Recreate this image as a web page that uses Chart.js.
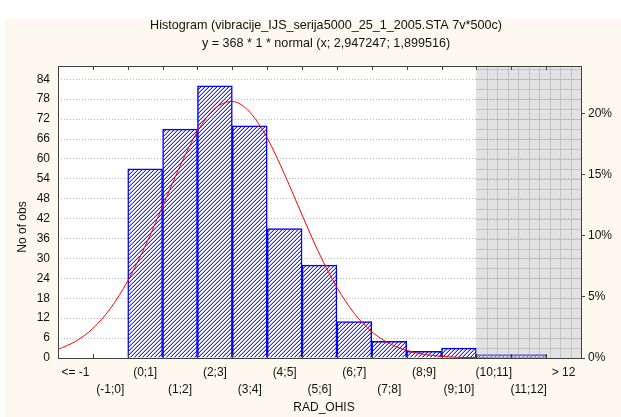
<!DOCTYPE html>
<html>
<head>
<meta charset="utf-8">
<script src="https://cdn.jsdelivr.net/npm/chart.js@4.4.0/dist/chart.umd.min.js"></script>
<style>
  html, body { margin: 0; padding: 0; background: #fff; }
</style>
</head>
<body>
<canvas id="histo" width="621" height="417"></canvas>
<script>
// ---- data ----
const categories = ['<= -1', '(-1;0]', '(0;1]', '(1;2]', '(2;3]', '(3;4]', '(4;5]', '(5;6]',
  '(6;7]', '(7;8]', '(8;9]', '(9;10]', '(10;11]', '(11;12]', '> 12'];
const counts = [0, 0, 57, 69, 82, 70, 39, 28, 11, 5, 2, 3, 1, 1, 0];

// fitted normal curve (x in RAD_OHIS units, y in counts)
const curveX = [-2, -1.5, -1, -0.5, 0, 0.5, 1, 1.5, 2, 2.5, 3, 3.5, 4, 4.5, 5, 5.5, 6, 6.5, 7,
  7.5, 8, 8.5, 9, 9.5, 10, 10.5, 11, 11.5, 12];
const curveY = [2.6, 5.0, 8.9, 14.9, 23.2, 33.7, 45.7, 57.8, 68.3, 75.2, 77.3, 74.1, 66.3, 55.3,
  43.1, 31.3, 21.3, 13.4, 7.9, 4.4, 2.3, 1.1, 0.5, 0.2, 0.1, 0, 0, 0, 0];

const yTicks = [0, 6, 12, 18, 24, 30, 36, 42, 48, 54, 60, 66, 72, 78, 84];
const pctTicks = [0, 5, 10, 15, 20];
const totalObs = 368;
const yMax = 88;
const shadedFrom = 12;   // first category index under the grey area

const titleLines = ['Histogram (vibracije_IJS_serija5000_25_1_2005.STA 7v*500c)',
  'y = 368 * 1 * normal (x; 2,947247; 1,899516)'];
const xTitle = 'RAD_OHIS';
const yTitle = 'No of obs';

const FONT = '"Liberation Sans", Arial, sans-serif';

// ---- hatch fill for the bars (blue "/" lines) ----
function makeHatch(ctx2d) {
  const c = document.createElement('canvas');
  c.width = 4; c.height = 4;
  const g = c.getContext('2d');
  g.fillStyle = '#fff';
  g.fillRect(0, 0, 4, 4);
  for (let y = 0; y < 4; y++) {
    for (let x = 0; x < 4; x++) {
      const k = (x + y) % 4;
      if (k === 3) { g.fillStyle = '#2222ff'; g.fillRect(x, y, 1, 1); }
      if (k === 2) { g.fillStyle = '#b4b4ff'; g.fillRect(x, y, 1, 1); }
    }
  }
  return ctx2d.createPattern(c, 'repeat');
}

const ctx = document.getElementById('histo');
const hatch = makeHatch(ctx.getContext('2d'));

function boundary(xs, i) {
  // pixel between category i-1 and i
  return (xs.getPixelForValue(i - 1) + xs.getPixelForValue(i)) / 2;
}

const decor = {
  id: 'decor',
  beforeDraw(chart) {
    const c = chart.ctx, a = chart.chartArea;
    c.save();
    c.fillStyle = '#fff';
    c.fillRect(0, 0, chart.width, chart.height);
    c.fillStyle = '#fdf9ee';
    c.fillRect(5, 19, chart.width - 5, chart.height - 19);
    c.fillStyle = '#fff';
    c.fillRect(a.left, a.top, a.right - a.left, a.bottom - a.top);
    c.restore();
  },
  afterDatasetsDraw(chart) {
    const c = chart.ctx, a = chart.chartArea;
    const xs = chart.scales.x, ys = chart.scales.y;
    const gx = Math.round(boundary(xs, shadedFrom));
    c.save();
    // grey area over the last bins
    c.fillStyle = 'rgba(190,190,190,0.45)';
    c.fillRect(gx, a.top, a.right - gx, a.bottom - a.top);
    c.strokeStyle = 'rgba(160,160,160,0.45)';
    c.lineWidth = 1;
    c.beginPath();
    const w = (a.right - gx) / 10;
    for (let k = 1; k < 10; k++) {
      const px = Math.round(gx + k * w) + 0.5;
      c.moveTo(px, a.top); c.lineTo(px, a.bottom);
    }
    for (let v = 3; v < yMax; v += 3) {
      const py = Math.round(ys.getPixelForValue(v)) + 0.5;
      c.moveTo(gx, py); c.lineTo(a.right, py);
    }
    c.stroke();

    // frame and inner tick marks
    c.strokeStyle = '#404040';
    c.lineWidth = 1;
    c.strokeRect(Math.round(a.left) + 0.5, Math.round(a.top) + 0.5,
      Math.round(a.right - a.left), Math.round(a.bottom - a.top));
    c.beginPath();
    for (let i = 1; i < categories.length; i++) {
      const px = Math.round(boundary(xs, i)) + 0.5;
      c.moveTo(px, a.top); c.lineTo(px, a.top + 4);
      c.moveTo(px, a.bottom); c.lineTo(px, a.bottom - 4);
    }
    c.stroke();
    c.restore();
  },
  afterDraw(chart) {
    const c = chart.ctx;
    c.save();
    c.fillStyle = '#111';
    c.textAlign = 'center';
    c.textBaseline = 'middle';
    c.font = '12.6px ' + FONT;
    c.fillText(titleLines[0], 326, 26);
    c.fillText(titleLines[1], 326, 44);
    c.font = '12px ' + FONT;
    c.fillText(xTitle, 324, 408);
    c.translate(23, 227);
    c.rotate(-Math.PI / 2);
    c.fillText(yTitle, 0, 0);
    c.restore();
  }
};

const data = {
  labels: categories,
  datasets: [{
    type: 'line',
    label: 'normal',
    data: curveX.map((x, i) => ({ x: x, y: curveY[i] })),
    xAxisID: 'x2',
    yAxisID: 'y',
    borderColor: '#ff0000',
    borderWidth: 1,
    pointRadius: 0,
    cubicInterpolationMode: 'monotone',
    order: 0
  }, {
    type: 'bar',
    label: 'No of obs',
    data: counts,
    xAxisID: 'x',
    yAxisID: 'y',
    backgroundColor: hatch,
    borderColor: '#0000ff',
    borderWidth: 1.5,
    barPercentage: 1,
    categoryPercentage: 1,
    grouped: false,
    order: 1
  }]
};

const config = {
  data: data,
  options: {
    responsive: false,
    animation: false,
    layout: { padding: { top: 66, left: 0, right: 0, bottom: 0 } },
    plugins: {
      legend: { display: false },
      tooltip: { enabled: false }
    },
    scales: {
      x: {
        type: 'category',
        position: 'bottom',
        grid: { display: false, drawTicks: false },
        border: { display: false },
        ticks: {
          autoSkip: false,
          maxRotation: 0,
          padding: 7,
          color: '#111',
          font: { family: FONT, size: 12, lineHeight: 1.35 },
          callback: (v, i) => i % 2 ? ['', categories[i]] : [categories[i], '']
        },
        afterFit: s => { s.height = 59; }
      },
      x2: {
        type: 'linear',
        min: -2,
        max: 13,
        display: false
      },
      y: {
        position: 'left',
        min: 0,
        max: yMax,
        afterBuildTicks: s => { s.ticks = yTicks.map(v => ({ value: v })); },
        grid: { color: '#b8b8b8', drawTicks: false },
        border: { display: false, dash: [1, 2] },
        ticks: {
          padding: 8,
          color: '#111',
          font: { family: FONT, size: 12 }
        },
        afterFit: s => { s.width = 58; }
      },
      y2: {
        position: 'right',
        min: 0,
        max: yMax / totalObs * 100,
        afterBuildTicks: s => { s.ticks = pctTicks.map(v => ({ value: v })); },
        grid: { drawOnChartArea: false, drawTicks: true, tickLength: 4, color: '#404040' },
        border: { display: false },
        ticks: {
          padding: 3,
          color: '#111',
          font: { family: FONT, size: 12 },
          callback: v => v + '%'
        },
        afterFit: s => { s.width = 40; }
      }
    }
  },
  plugins: [decor]
};

new Chart(ctx, config);
</script>
</body>
</html>
